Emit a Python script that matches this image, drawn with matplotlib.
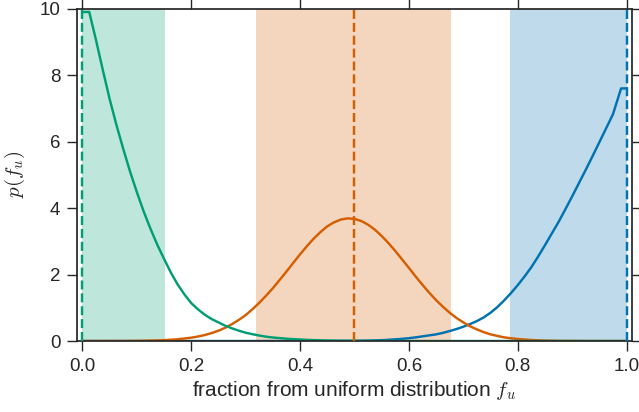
import matplotlib
matplotlib.use('Agg')
import matplotlib.pyplot as plt

plt.rcParams.update({'font.family': ['Liberation Sans', 'DejaVu Sans']})
plt.rcParams.update({'mathtext.fontset': 'cm'})
plt.rcParams.update({'xtick.labelsize': 13.5, 'ytick.labelsize': 13.5,
                     'axes.labelsize': 15})
plt.rcParams.update({'text.color': '#262626', 'axes.labelcolor': '#262626',
                     'xtick.color': '#262626', 'ytick.color': '#262626'})

# colours (seaborn colorblind)
c_green, c_orange, c_blue = '#009E73', '#D55E00', '#0072B2'

# p(f_u) curves
x_green = [0.0, 0.0125, 0.025, 0.0375, 0.05, 0.0625, 0.075, 0.0875, 0.1, 0.1125,
           0.125, 0.1375, 0.15, 0.1625, 0.175, 0.1875, 0.2, 0.2125, 0.225, 0.2375,
           0.25, 0.2625, 0.275, 0.2875, 0.3, 0.3125, 0.325, 0.3375, 0.35, 0.375,
           0.4, 0.425, 0.45, 0.475, 0.5, 0.525, 0.55, 0.6, 0.7, 0.8, 0.9, 1.0]
y_green = [9.9, 9.9, 9.05, 8.15, 7.28, 6.50, 5.78, 5.10, 4.48, 3.90,
           3.38, 2.90, 2.47, 2.06, 1.70, 1.40, 1.14, 0.95, 0.79, 0.66,
           0.56, 0.46, 0.38, 0.31, 0.25, 0.205, 0.165, 0.13, 0.105, 0.07,
           0.045, 0.027, 0.015, 0.008, 0.005, 0.003, 0.001, 0.0, 0.0, 0.0, 0.0, 0.0]

x_orange = [0.0, 0.025, 0.05, 0.075, 0.1, 0.125, 0.15, 0.175, 0.2, 0.2125, 0.225,
            0.2375, 0.25, 0.2625, 0.275, 0.2875, 0.3, 0.3125, 0.325, 0.3375, 0.35,
            0.3625, 0.375, 0.3875, 0.4, 0.4125, 0.425, 0.4375, 0.45, 0.4625, 0.475,
            0.4875, 0.5, 0.5125, 0.525, 0.5375, 0.55, 0.5625, 0.575, 0.5875, 0.6,
            0.6125, 0.625, 0.6375, 0.65, 0.6625, 0.675, 0.6875, 0.7, 0.7125, 0.725,
            0.7375, 0.75, 0.7625, 0.775, 0.7875, 0.8, 0.825, 0.85, 0.875, 0.9,
            0.925, 0.95, 1.0]
y_orange = [0.0, 0.0, 0.001, 0.002, 0.005, 0.012, 0.026, 0.052, 0.10, 0.136, 0.18,
            0.24, 0.31, 0.40, 0.51, 0.636, 0.78, 0.956, 1.15, 1.362, 1.59,
            1.838, 2.09, 2.352, 2.61, 2.852, 3.08, 3.279, 3.45, 3.572, 3.655,
            3.69, 3.674, 3.611, 3.50, 3.35, 3.16, 2.946, 2.71, 2.455, 2.20,
            1.939, 1.69, 1.452, 1.23, 1.031, 0.85, 0.693, 0.56, 0.442, 0.35,
            0.267, 0.20, 0.153, 0.11, 0.083, 0.06, 0.03, 0.014, 0.006, 0.003,
            0.001, 0.0, 0.0]

x_blue = [0.0, 0.1, 0.2, 0.3, 0.4, 0.45, 0.475, 0.5, 0.525, 0.55, 0.575, 0.5875,
          0.6, 0.6125, 0.625, 0.6375, 0.65, 0.6625, 0.675, 0.6875, 0.7, 0.7125,
          0.725, 0.7375, 0.75, 0.7625, 0.775, 0.7875, 0.8, 0.8125, 0.825, 0.8375,
          0.85, 0.8625, 0.875, 0.8875, 0.9, 0.9125, 0.925, 0.9375, 0.95, 0.9625,
          0.975, 0.99, 1.0]
y_blue = [0.0, 0.0, 0.0, 0.0, 0.0, 0.001, 0.003, 0.005, 0.012, 0.025, 0.05, 0.065,
          0.085, 0.11, 0.14, 0.17, 0.20, 0.245, 0.30, 0.36, 0.43, 0.51,
          0.60, 0.71, 0.85, 1.02, 1.22, 1.44, 1.68, 1.94, 2.22, 2.54,
          2.88, 3.23, 3.58, 3.96, 4.35, 4.75, 5.15, 5.56, 5.98, 6.40,
          6.82, 7.6, 7.6]

# credible intervals and true values
spans = [(0.0, 0.152), (0.319, 0.677), (0.785, 1.0)]
truths = [0.0, 0.5, 1.0]
colors = [c_green, c_orange, c_blue]

fig = plt.figure(figsize=(6.39, 4.12), dpi=100)
ax = fig.add_axes([0.1205, 0.1723, 0.8685, 0.8067])

for (lo, hi), c in zip(spans, colors):
    ax.axvspan(lo, hi, color=c, alpha=0.25, lw=0, zorder=0)

ax.plot(x_blue, y_blue, color=c_blue, lw=1.75, zorder=2)
ax.plot(x_orange, y_orange, color=c_orange, lw=1.75, zorder=2)
ax.plot(x_green, y_green, color=c_green, lw=1.75, zorder=2)

for t, c in zip(truths, colors):
    ax.axvline(t, color=c, ls='--', lw=1.75, zorder=3)

ax.set_xlim(-0.01, 1.01)
ax.set_ylim(0, 10)
ax.set_xticks([0.0, 0.2, 0.4, 0.6, 0.8, 1.0])
ax.set_yticks([0, 2, 4, 6, 8, 10])
ax.set_xlabel('fraction from uniform distribution $f_u$', labelpad=3)
ax.set_ylabel('$p(f_u)$', labelpad=9)

for s in ax.spines.values():
    s.set_color('#262626')
    s.set_linewidth(1.25)
ax.tick_params(direction='out', length=7, width=1, pad=5, top=True, right=True,
               labeltop=False, labelright=False)

plt.savefig('out.png', dpi=100)
